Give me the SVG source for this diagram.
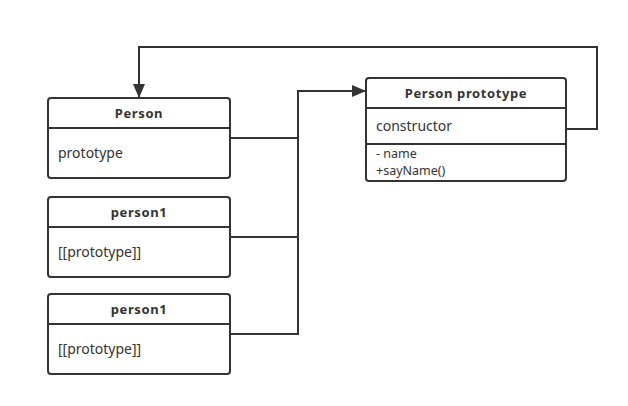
<svg xmlns="http://www.w3.org/2000/svg" width="628" height="406" viewBox="0 0 628 406">
<defs>
<style>
.box{fill:#fff;stroke:#333;stroke-width:2}
.ln{stroke:#333;stroke-width:2;fill:none}
.t{font-family:"Noto Sans","Open Sans",sans-serif;font-size:14px;fill:#333}
.s{font-size:12.5px}
.h{font-size:13px;font-weight:bold;text-anchor:middle;letter-spacing:0.6px}
</style>
<marker id="arr" markerWidth="14" markerHeight="12" refX="13" refY="6" orient="auto" markerUnits="userSpaceOnUse" viewBox="0 0 14 12">
<path d="M0,0 L14,6 L0,12 z" fill="#333"/>
</marker>
</defs>
<rect width="628" height="406" fill="#fff"/>
<g id="connectors">
<polyline class="ln" points="230,138 298,138"/>
<polyline class="ln" points="230,237 298,237"/>
<polyline class="ln" points="230,334 298,334 298,91 365,91" marker-end="url(#arr)"/>
<polyline class="ln" points="566,129 597,129 597,47 139,47 139,97" marker-end="url(#arr)"/>
</g>
<g id="person">
<rect class="box" x="48" y="98" width="182" height="80" rx="3"/>
<line class="ln" x1="48" y1="128" x2="230" y2="128"/>
<text class="t h" x="139" y="118">Person</text>
<text class="t" x="58" y="158">prototype</text>
</g>
<g id="person1a">
<rect class="box" x="48" y="197" width="182" height="80" rx="3"/>
<line class="ln" x1="48" y1="227" x2="230" y2="227"/>
<text class="t h" x="139" y="217">person1</text>
<text class="t" x="58" y="257">[[prototype]]</text>
</g>
<g id="person1b">
<rect class="box" x="48" y="294" width="182" height="80" rx="3"/>
<line class="ln" x1="48" y1="324" x2="230" y2="324"/>
<text class="t h" x="139" y="314">person1</text>
<text class="t" x="58" y="354">[[prototype]]</text>
</g>
<g id="personPrototype">
<rect class="box" x="366" y="78" width="200" height="103" rx="3"/>
<line class="ln" x1="366" y1="108" x2="566" y2="108"/>
<line class="ln" x1="366" y1="144" x2="566" y2="144"/>
<text class="t h" x="466" y="98">Person prototype</text>
<text class="t" x="376" y="131">constructor</text>
<text class="t s" x="376" y="158">- name</text>
<text class="t s" x="376" y="175">+sayName()</text>
</g>
</svg>
